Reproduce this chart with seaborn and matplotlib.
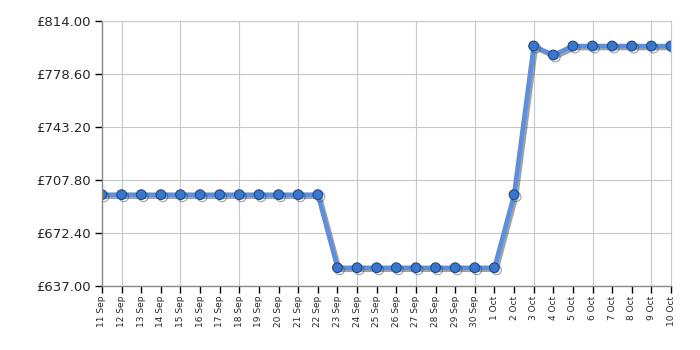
import matplotlib
matplotlib.use("Agg")
import matplotlib.pyplot as plt
import matplotlib.patheffects as pe
import seaborn as sns
import pandas as pd

dates = ["11 Sep", "12 Sep", "13 Sep", "14 Sep", "15 Sep", "16 Sep", "17 Sep", "18 Sep",
         "19 Sep", "20 Sep", "21 Sep", "22 Sep", "23 Sep", "24 Sep", "25 Sep", "26 Sep",
         "27 Sep", "28 Sep", "29 Sep", "30 Sep", "1 Oct", "2 Oct", "3 Oct", "4 Oct",
         "5 Oct", "6 Oct", "7 Oct", "8 Oct", "9 Oct", "10 Oct"]
prices = [698.0, 698.0, 698.0, 698.0, 698.0, 698.0, 698.0, 698.0,
          698.0, 698.0, 698.0, 698.0, 649.2, 649.2, 649.2, 649.2,
          649.2, 649.2, 649.2, 649.2, 649.2, 698.0, 797.3, 791.3,
          797.3, 797.3, 797.3, 797.3, 797.3, 797.3]
y_ticks = [637.00, 672.40, 707.80, 743.20, 778.60, 814.00]

df = pd.DataFrame({"idx": range(len(dates)), "price": prices})

sns.set_style("white")
plt.rcParams['font.family'] = ['DejaVu Sans']

fig = plt.figure(figsize=(7, 3.5), dpi=100)
ax = fig.add_axes([102/700, 1 - 286/350, (671 - 102)/700, (286 - 21)/350])

sns.lineplot(data=df, x="idx", y="price", ax=ax, color="#5b90de", linewidth=3.2,
             marker="o", markersize=7, markerfacecolor="#3a76cc",
             markeredgecolor="#1f4a8a", markeredgewidth=0.8,
             path_effects=[pe.SimpleLineShadow(offset=(1.5, -1.5), shadow_color="#444444", alpha=0.5),
                           pe.Normal()])

ax.set_xlim(0, len(dates) - 1)
ax.set_ylim(y_ticks[0], y_ticks[-1])
ax.set_yticks(y_ticks)
ax.set_yticklabels([f"£{v:.2f}" for v in y_ticks], fontsize=9.5)
ax.set_xticks(range(len(dates)))
ax.set_xticklabels(dates, rotation=90, fontsize=6.5)
ax.set_xlabel("")
ax.set_ylabel("")

ax.grid(True, color="#c8c8c8", linewidth=0.8)
ax.set_axisbelow(True)
for i, t in enumerate(ax.xaxis.get_major_ticks()):
    if i % 3 != 1:
        t.tick1line.set_visible(False)
        t.gridline.set_visible(False)

ax.tick_params(axis="both", which="major", direction="out", length=5, width=1, color="black",
               left=True, bottom=True, pad=3)
ax.tick_params(axis="x", pad=2)

for side in ["left", "bottom"]:
    ax.spines[side].set_color("#888888")
    ax.spines[side].set_linewidth(1)
for side in ["top", "right"]:
    ax.spines[side].set_color("#c8c8c8")
    ax.spines[side].set_linewidth(0.8)

fig.savefig("out.png", dpi=100)
